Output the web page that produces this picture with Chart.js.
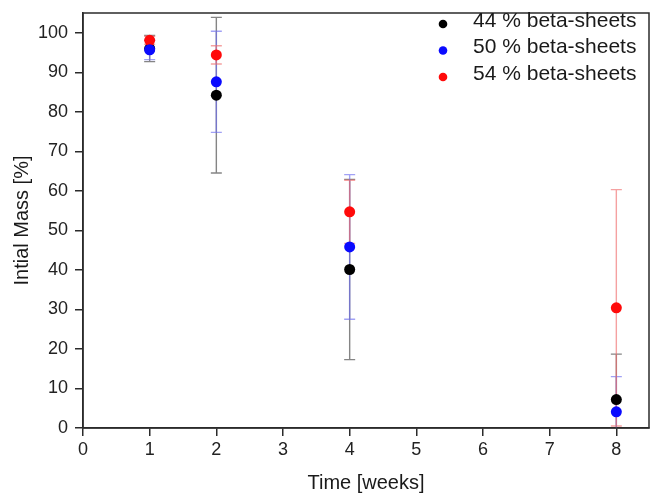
<!DOCTYPE html>
<html>
<head>
<meta charset="utf-8">
<script src="https://cdn.jsdelivr.net/npm/chart.js@4.4.1/dist/chart.umd.min.js"></script>
<style>
  html, body { margin: 0; padding: 0; background: #fff; overflow: hidden; }
  canvas { display: block; }
</style>
</head>
<body>
<canvas id="mass-chart" width="651" height="493"></canvas>
<script>
// Mass loss over time, three beta-sheet contents, mean ± error
const WEEKS = [1, 2, 4, 8];

const MASS_44 = [96.0, 84.2, 40.1, 7.2];
const ERR_44  = [3.3, 19.7, 22.8, 11.5];

const MASS_50 = [95.7, 87.6, 45.8, 4.1];
const ERR_50  = [2.5, 12.8, 18.3, 8.9];

const MASS_54 = [98.1, 94.4, 54.7, 30.4];
const ERR_54  = [1.0, 2.3, 8.0, 29.9];

const SERIES_LABELS = ['44 % beta-sheets', '50 % beta-sheets', '54 % beta-sheets'];
const X_TICKS = [0, 1, 2, 3, 4, 5, 6, 7, 8];
const Y_TICKS = [0, 10, 20, 30, 40, 50, 60, 70, 80, 90, 100];

const FONT = '"Liberation Sans", Arial, sans-serif';
const AXIS = '#2b2b2b';

const toPoints = (vals, errs) => WEEKS.map((w, i) => ({ x: w, y: vals[i], err: errs[i] }));

// error bars go under the markers
const errorBars = {
    id: 'errorBars',
    beforeDatasetsDraw(chart) {
        const { ctx, chartArea, scales: { x, y } } = chart;
        ctx.save();
        ctx.beginPath();
        ctx.rect(chartArea.left, chartArea.top - 8, chartArea.width, chartArea.height + 8);
        ctx.clip();
        chart.data.datasets.forEach(ds => {
            ctx.strokeStyle = ds.errorColor;
            ctx.lineWidth = 1.4;
            ds.data.forEach(p => {
                const px = x.getPixelForValue(p.x);
                const hi = y.getPixelForValue(p.y + p.err);
                const lo = y.getPixelForValue(p.y - p.err);
                ctx.beginPath();
                ctx.moveTo(px, hi);
                ctx.lineTo(px, lo);
                ctx.moveTo(px - 5.5, hi);
                ctx.lineTo(px + 5.5, hi);
                ctx.moveTo(px - 5.5, lo);
                ctx.lineTo(px + 5.5, lo);
                ctx.stroke();
            });
        });
        ctx.restore();
    },
};

// closed frame round the plot + legend in the top-right corner
const frameAndLegend = {
    id: 'frameAndLegend',
    afterDraw(chart) {
        const { ctx, chartArea } = chart;
        ctx.save();
        ctx.strokeStyle = AXIS;
        ctx.lineWidth = 1.5;
        ctx.strokeRect(chartArea.left, chartArea.top, chartArea.width, chartArea.height);

        ctx.font = '21px ' + FONT;
        ctx.textBaseline = 'middle';
        chart.data.datasets.forEach((ds, i) => {
            const yy = 21 + i * 26.5;
            ctx.fillStyle = ds.backgroundColor;
            ctx.beginPath();
            ctx.arc(443, yy + 3, 4.3, 0, Math.PI * 2);
            ctx.fill();
            ctx.fillStyle = '#1a1a1a';
            ctx.fillText(ds.label, 473, yy);
        });
        ctx.restore();
    },
};

const ctx = document.getElementById('mass-chart').getContext('2d');

new Chart(ctx, {
    type: 'scatter',
    data: {
        datasets: [
            {
                label: SERIES_LABELS[0],
                data: toPoints(MASS_44, ERR_44),
                backgroundColor: '#000000',
                errorColor: 'rgba(120,120,120,0.9)',
                order: 2,
            },
            {
                label: SERIES_LABELS[1],
                data: toPoints(MASS_50, ERR_50),
                backgroundColor: '#0a0aff',
                errorColor: 'rgba(110,110,240,0.65)',
                order: 0,
            },
            {
                label: SERIES_LABELS[2],
                data: toPoints(MASS_54, ERR_54),
                backgroundColor: '#ff0a0a',
                errorColor: 'rgba(240,110,110,0.65)',
                order: 1,
            },
        ],
    },
    options: {
        responsive: false,
        animation: false,
        layout: { autoPadding: false, padding: { top: 13, right: 2, left: 0, bottom: 0 } },
        elements: {
            point: { radius: 5.5, borderWidth: 0, hoverRadius: 6 },
        },
        plugins: {
            legend: { display: false },
            tooltip: { enabled: false },
        },
        scales: {
            x: {
                type: 'linear',
                min: 0,
                max: 8.49,
                afterBuildTicks: s => { s.ticks = X_TICKS.map(v => ({ value: v })); },
                afterFit: s => { s.height = 65; s.paddingLeft = 0; s.paddingRight = 0; },
                ticks: { color: '#222', font: { family: FONT, size: 18 }, padding: 3 },
                grid: { display: true, drawOnChartArea: false, drawTicks: true, tickLength: 8, color: AXIS, lineWidth: 1.5 },
                border: { display: true, color: AXIS, width: 1.5 },
                title: {
                    display: true,
                    text: 'Time [weeks]',
                    color: '#1a1a1a',
                    font: { family: FONT, size: 20, lineHeight: 1 },
                    padding: { top: 0, bottom: 0 },
                },
            },
            y: {
                type: 'linear',
                min: 0,
                max: 105,
                afterBuildTicks: s => { s.ticks = Y_TICKS.map(v => ({ value: v })); },
                afterFit: s => { s.width = 83; s.paddingTop = 0; s.paddingBottom = 0; },
                ticks: { color: '#222', font: { family: FONT, size: 18 }, padding: 7 },
                grid: { display: true, drawOnChartArea: false, drawTicks: true, tickLength: 8, color: AXIS, lineWidth: 1.5 },
                border: { display: true, color: AXIS, width: 1.5 },
                title: {
                    display: true,
                    text: 'Intial Mass [%]',
                    color: '#1a1a1a',
                    font: { family: FONT, size: 20, lineHeight: 1 },
                    padding: { top: 12, bottom: 0 },
                },
            },
        },
    },
    plugins: [errorBars, frameAndLegend],
});
</script>
</body>
</html>
